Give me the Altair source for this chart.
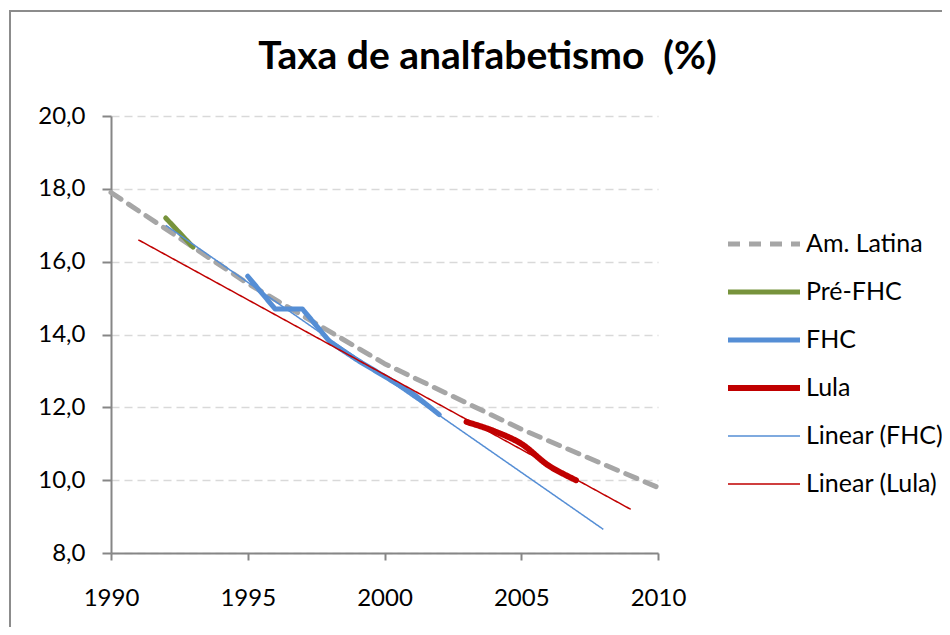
import altair as alt
import pandas as pd

series_order = ["Am. Latina", "Pré-FHC", "FHC", "Lula", "Linear (FHC)", "Linear (Lula)"]
colors = ["#a6a6a6", "#77933c", "#558ed5", "#c00000", "#558ed5", "#c00000"]
dashes = [[12, 9], [1, 0], [1, 0], [1, 0], [1, 0], [1, 0]]
widths = [5, 5, 5, 6, 1.5, 1.5]

al_years = [1990, 1995, 2000, 2005, 2010]
al_vals = [17.9, 15.4, 13.2, 11.4, 9.8]
pre_years = [1992, 1993]
pre_vals = [17.2, 16.4]
fhc_years = [1995, 1996, 1997, 1998, 1999, 2001, 2002]
fhc_vals = [15.6, 14.7, 14.7, 13.8, 13.3, 12.4, 11.8]
lula_years = [2003, 2004, 2005, 2006, 2007]
lula_vals = [11.6, 11.35, 11.0, 10.4, 10.0]
trend_fhc_years = [1992, 2008]
trend_fhc_vals = [17.0, 8.65]
trend_lula_years = [1991, 2009]
trend_lula_vals = [16.6, 9.2]

x_ticks = [1990, 1995, 2000, 2005, 2010]
y_ticks = [8, 10, 12, 14, 16, 18, 20]

rows = []
for name, ys, vs in [
    ("Am. Latina", al_years, al_vals),
    ("Pré-FHC", pre_years, pre_vals),
    ("FHC", fhc_years, fhc_vals),
    ("Lula", lula_years, lula_vals),
    ("Linear (FHC)", trend_fhc_years, trend_fhc_vals),
    ("Linear (Lula)", trend_lula_years, trend_lula_vals),
]:
    for y, v in zip(ys, vs):
        rows.append({"year": y, "value": v, "series": name})
df = pd.DataFrame(rows)

FONT = "Lato"

legend = alt.Legend(
    title=None, orient="none", legendX=614, legendY=114,
    symbolType="stroke", symbolSize=5184, clipHeight=28, rowPadding=20,
    labelFontSize=25, labelFont=FONT, labelColor="black", labelOffset=3,
)

x_enc = alt.X("year:Q", scale=alt.Scale(domain=[1990, 2010], nice=False),
              axis=alt.Axis(values=x_ticks, format="d", title=None))
y_enc = alt.Y("value:Q", scale=alt.Scale(domain=[8, 20], nice=False, zero=False),
              axis=alt.Axis(values=y_ticks, title=None,
                            labelExpr="replace(format(datum.value, '.1f'), '.', ',')"))
color_enc = alt.Color("series:N", scale=alt.Scale(domain=series_order, range=colors), legend=legend)
dash_enc = alt.StrokeDash("series:N", scale=alt.Scale(domain=series_order, range=dashes), legend=legend)
width_enc = alt.StrokeWidth("series:N", scale=alt.Scale(type="ordinal", domain=series_order, range=widths), legend=legend)

base = alt.Chart(df).encode(x=x_enc, y=y_enc, color=color_enc, strokeDash=dash_enc,
                            strokeWidth=width_enc, order=alt.Order("year:Q"))

main = base.mark_line(strokeCap="round", strokeJoin="round").transform_filter(
    alt.FieldOneOfPredicate(field="series", oneOf=["Am. Latina", "Pré-FHC", "FHC"]))
lula = base.mark_line(strokeCap="round", strokeJoin="round", interpolate="catmull-rom").transform_filter(
    alt.FieldEqualPredicate(field="series", equal="Lula"))
trends = base.mark_line(strokeCap="butt").transform_filter(
    alt.FieldOneOfPredicate(field="series", oneOf=["Linear (FHC)", "Linear (Lula)"]))

border = alt.Chart(pd.DataFrame({"a": [0]})).mark_rect(
    filled=False, stroke="#8c8c8c", strokeWidth=2
).encode(x=alt.value(-101), x2=alt.value(900), y=alt.value(-105), y2=alt.value(700))

chart = alt.layer(border, main, lula, trends).properties(
    width=547, height=437,
    padding={"left": 103, "top": 108, "right": 284, "bottom": 74},
    autosize=alt.AutoSizeParams(type="none"),
    title=alt.Title("Taxa de analfabetismo \u00a0(%)", fontSize=39, font=FONT, fontWeight="bold",
                    anchor="middle", dx=103, offset=0, dy=98, baseline="alphabetic",
                    color="black"),
).configure_view(stroke=None).configure_axisX(
    domainColor="#868686", domainWidth=2, tickColor="#868686", tickWidth=2, tickSize=7,
    labelFontSize=24, labelFont=FONT, labelColor="black", labelPadding=26, grid=False,
    labelFlush=False,
).configure_axisY(
    domainColor="#868686", domainWidth=2, tickColor="#868686", tickWidth=2, tickSize=9,
    labelFontSize=24, labelFont=FONT, labelColor="black", labelPadding=17,
    grid=True, gridDash=[8, 5], gridColor="#d9d9d9", gridWidth=1.5,
)

chart.save("out.html", embed_options={"renderer": "svg", "actions": False})
